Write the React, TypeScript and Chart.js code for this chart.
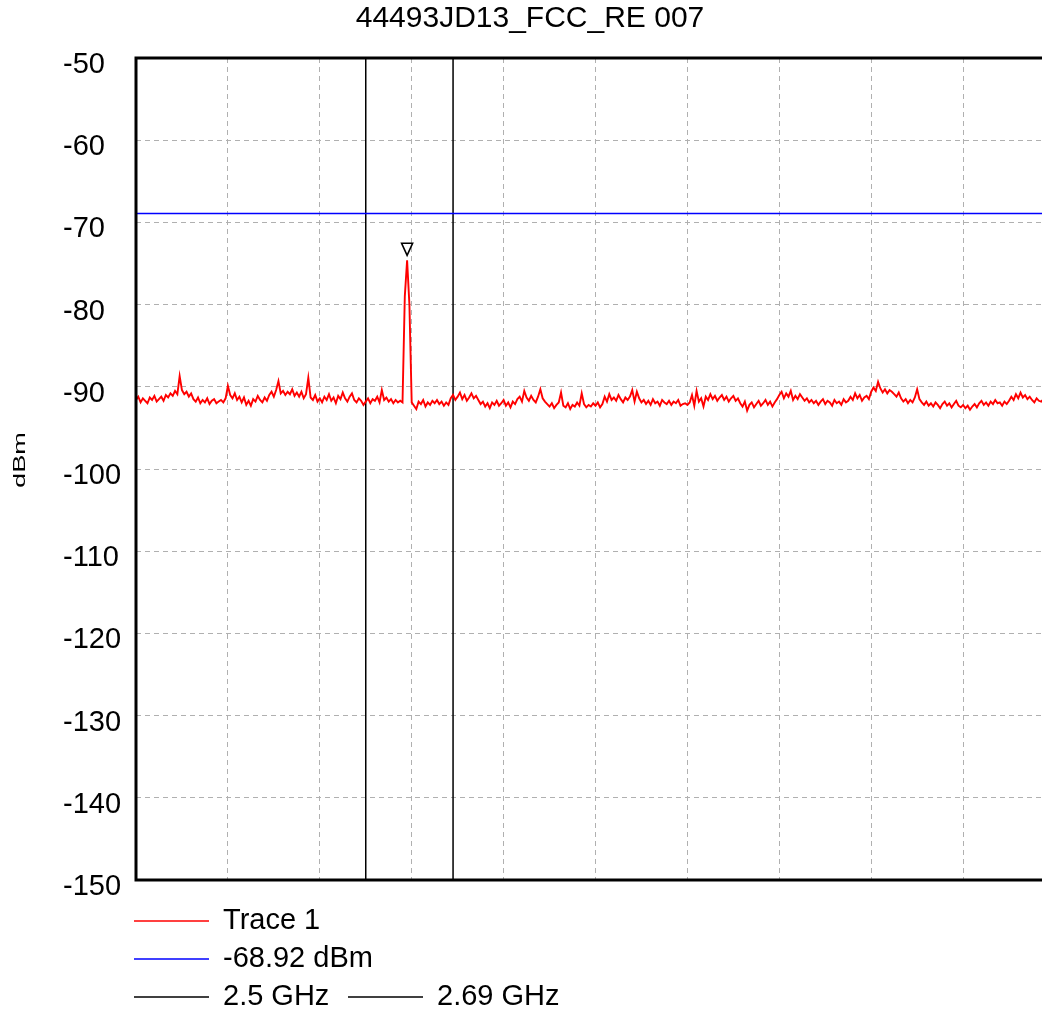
import { useEffect, useRef } from 'react';
import { Chart, registerables } from 'chart.js';

Chart.register(...registerables);

const FONT = "'Liberation Sans', Arial, Helvetica, sans-serif";

const TITLE = '44493JD13_FCC_RE 007';
const Y_LABEL = 'dBm';

// Sweep: 2.0 GHz .. 4.0 GHz, 0.005 GHz per trace point
const START_GHZ = 2.0;
const STEP_GHZ = 0.005;
const X_MIN = 2.0;
const X_MAX = 4.0;
const X_STEP = 0.2;

const Y_MIN = -150;
const Y_MAX = -50;
const Y_STEP = 10;

// Trace 1 levels (dBm)
const traceLevels = [
  -91.6, -91.2, -91.9, -91.4, -91.7, -92.0, -91.3, -91.6, -91.1, -91.8, -91.5, -91.2, -91.7, -91.0, -91.3, -90.8, -91.1, -90.5, -90.9, -88.7,
  -90.4, -90.9, -90.6, -91.2, -90.8, -91.5, -91.8, -91.3, -92.0, -91.6, -91.9, -91.4, -92.1, -91.7, -91.5, -92.0, -91.8, -91.6, -91.9, -91.4,
  -89.9, -91.0, -91.4, -90.8, -91.6, -91.2, -91.9, -91.3, -92.2, -91.7, -92.3, -91.5, -91.8, -91.1, -91.6, -91.9, -91.3, -91.7, -91.0, -90.6,
  -91.2, -90.4, -89.3, -90.8, -90.5, -91.0, -90.6, -90.9, -90.3, -91.1, -90.7, -91.2, -90.6, -91.4, -90.9, -88.9, -91.3, -91.6, -91.0, -91.8,
  -91.4, -91.9, -91.2, -91.6, -90.9, -91.7, -91.3, -92.0, -91.1, -91.5, -90.7, -91.4, -91.8, -91.2, -90.8, -91.6, -91.9, -91.4, -91.7, -92.2,
  -91.8, -91.4, -92.0, -91.5, -91.7, -91.2, -91.9, -90.4, -91.6, -91.3, -91.8, -91.5, -92.0, -91.6, -91.9, -91.7, -91.9, -79.0, -74.6, -80.0,
  -91.9, -92.3, -92.7, -91.8, -92.1, -91.6, -92.4, -91.9, -92.2, -91.7, -92.0, -91.6, -92.1, -91.8, -92.3, -91.9, -92.2, -91.4, -91.0, -91.6,
  -91.2, -90.7, -91.5, -91.0, -91.7, -91.3, -90.8, -91.4, -91.1, -91.6, -92.1, -91.8, -92.4, -92.0, -92.6, -91.9, -92.2, -91.7, -92.3, -92.0,
  -91.6, -92.3, -91.9, -92.5, -91.8, -92.1, -91.5, -91.2, -91.8, -90.5, -91.3, -91.7, -91.1, -91.6, -91.9, -91.2, -90.3, -91.4, -91.8, -92.1,
  -92.4, -92.0, -92.6, -92.2, -91.9, -90.7, -92.3, -92.5, -92.0, -92.7, -92.2, -92.4, -91.9, -92.3, -90.8, -92.1, -92.5, -92.2, -92.4, -92.0,
  -92.3, -91.9, -92.5, -92.1, -91.2, -91.8, -90.9, -91.6, -91.3, -91.7, -91.0, -91.5, -91.9, -91.3, -91.6, -91.2, -90.4, -91.8, -90.6, -91.4,
  -91.9, -91.6, -92.1, -91.7, -92.2, -91.5, -92.0, -91.8, -92.3, -91.6, -91.9, -92.1, -91.7, -92.2, -91.8, -92.0, -91.6, -92.3, -92.1, -92.0,
  -92.2, -91.9, -91.0, -92.3, -90.5, -91.8, -91.4, -92.4, -91.2, -91.6, -90.9, -91.5, -91.1, -91.7, -91.3, -91.0, -91.6, -91.2, -91.8, -91.4,
  -91.1, -91.7, -91.4, -92.0, -92.4, -91.8, -92.9, -92.2, -91.9, -92.5, -92.1, -91.7, -92.3, -92.0, -91.6, -92.2, -91.8, -92.4, -91.9, -91.5,
  -91.0, -90.6, -91.4, -90.8, -91.2, -90.5, -91.6, -91.1, -91.5, -90.9, -91.3, -91.7, -91.4, -91.9, -91.6, -92.0, -91.7, -92.2, -91.8, -91.5,
  -92.1, -91.7, -91.9, -92.3, -91.6, -92.0, -91.8, -92.2, -91.5, -91.9, -91.7, -91.2, -91.6, -90.8, -91.4, -91.0, -91.7, -91.3, -91.1, -91.5,
  -90.6, -90.1, -90.5, -89.4, -90.2, -90.7, -90.3, -90.8, -90.4, -90.6, -90.9, -91.2, -90.7, -91.4, -91.8, -91.5, -92.0, -91.6, -91.9, -91.3,
  -90.3, -91.5, -91.9, -92.2, -91.8, -92.3, -92.0, -92.4, -91.9, -92.2, -92.6, -92.1, -91.8, -92.3, -92.0, -92.5, -92.1, -91.7, -92.3, -92.5,
  -92.2, -92.6, -92.3, -92.8, -92.4, -92.1, -92.5, -92.0, -91.7, -92.2, -91.9, -92.3, -91.8, -92.1, -91.6, -92.0, -91.9, -92.3, -91.8, -92.1,
  -91.7, -91.2, -91.6, -90.9, -91.4, -90.7, -91.3, -91.0, -91.5, -91.2, -91.6, -91.9, -91.4, -91.7, -91.8, -91.5, -91.9, -91.6, -91.8, -91.7,
];

// Limit line
const limitLevel = -68.92;

// Band edge markers
const bandEdges = [2.5, 2.69];
const bandLabels = ['2.5 GHz', '2.69 GHz'];

// Peak marker
const markerFreq = 2.59;
const markerLevel = -74.6;

const chartPlugin = {
  id: 'specDecor',
  afterLayout(chart: any) {
    if (chart.titleBlock) {
      chart.titleBlock.left = 0;
      chart.titleBlock.right = chart.width;
    }
  },
  afterDatasetsDraw(chart: any) {
    const { ctx, chartArea } = chart;
    const xs = chart.scales.x;
    const ys = chart.scales.y;
    ctx.save();
    // frame
    ctx.strokeStyle = '#000';
    ctx.lineWidth = 3;
    ctx.setLineDash([]);
    ctx.strokeRect(chartArea.left, chartArea.top, chartArea.right - chartArea.left, chartArea.bottom - chartArea.top);
    // peak marker triangle
    const px = xs.getPixelForValue(markerFreq);
    const py = ys.getPixelForValue(markerLevel) - 5;
    ctx.beginPath();
    ctx.moveTo(px - 5.5, py - 12);
    ctx.lineTo(px + 5.5, py - 12);
    ctx.lineTo(px, py);
    ctx.closePath();
    ctx.fillStyle = '#fff';
    ctx.fill();
    ctx.lineWidth = 1.6;
    ctx.stroke();
    ctx.restore();
  },
  afterDraw(chart: any) {
    const { ctx } = chart;
    const ds = chart.data.datasets;
    ctx.save();
    // y axis title
    ctx.translate(20, 460);
    ctx.rotate(-Math.PI / 2);
    ctx.scale(1.6, 1);
    ctx.fillStyle = '#000';
    ctx.font = `17px ${FONT}`;
    ctx.textAlign = 'center';
    ctx.textBaseline = 'middle';
    ctx.fillText(Y_LABEL, 0, 0);
    ctx.restore();

    // legend
    const rows = [921, 959, 997];
    const items = [
      { i: 0, row: 0, x: 134 },
      { i: 1, row: 1, x: 134 },
      { i: 2, row: 2, x: 134 },
      { i: 3, row: 2, x: 348 },
    ];
    ctx.save();
    ctx.font = `29px ${FONT}`;
    ctx.textAlign = 'left';
    ctx.textBaseline = 'middle';
    items.forEach(({ i, row, x }) => {
      const d = ds[i];
      const y = rows[row];
      ctx.strokeStyle = d.borderColor;
      ctx.lineWidth = 1.5;
      ctx.beginPath();
      ctx.moveTo(x, y);
      ctx.lineTo(x + 75, y);
      ctx.stroke();
      ctx.fillStyle = '#000';
      ctx.fillText(d.label, x + 89, y);
    });
    ctx.restore();
  },
};

export default function App() {
  const ref = useRef<HTMLCanvasElement>(null);
  useEffect(() => {
    document.body.style.margin = '0';
    document.body.style.overflow = 'hidden';
    const canvas = ref.current!;
    const traceData = traceLevels.map((v, i) => ({ x: +(START_GHZ + i * STEP_GHZ).toFixed(4), y: v }));
    const gridColor = '#b0b0b0';
    const chart = new Chart(canvas, {
      type: 'line',
      data: {
        datasets: [
          { label: 'Trace 1', data: traceData, borderColor: '#ff0000', borderWidth: 1.9, pointRadius: 0, tension: 0 },
          {
            label: `${limitLevel} dBm`,
            data: [{ x: X_MIN, y: limitLevel }, { x: X_MAX, y: limitLevel }],
            borderColor: '#0000ff', borderWidth: 1.5, pointRadius: 0,
          },
          ...bandEdges.map((f, i) => ({
            label: bandLabels[i],
            data: [{ x: f, y: Y_MAX }, { x: f, y: Y_MIN }],
            borderColor: '#000000', borderWidth: 1.5, pointRadius: 0,
          })),
        ],
      },
      options: {
        responsive: false,
        animation: false,
        events: [],
        layout: { padding: { left: 63, right: 5, top: 0, bottom: 132 } },
        plugins: {
          legend: { display: false },
          tooltip: { enabled: false },
          title: {
            display: true,
            text: TITLE,
            color: '#000',
            font: { family: FONT, size: 30, weight: 'normal', lineHeight: 1.2 },
            padding: { top: 1, bottom: 21 },
          },
        },
        scales: {
          x: {
            type: 'linear',
            min: X_MIN,
            max: X_MAX,
            ticks: { display: false, stepSize: X_STEP },
            grid: { color: gridColor, lineWidth: 1, drawTicks: false },
            border: { display: false, dash: [5, 4] },
            afterFit(s: any) { s.height = 0; },
          },
          y: {
            type: 'linear',
            min: Y_MIN,
            max: Y_MAX,
            ticks: {
              stepSize: Y_STEP,
              crossAlign: 'far',
              labelOffset: 7,
              color: '#000',
              font: { family: FONT, size: 29 },
            },
            grid: { color: gridColor, lineWidth: 1, drawTicks: false },
            border: { display: false, dash: [5, 4] },
            afterFit(s: any) { s.width = 73; },
          },
        },
      } as any,
      plugins: [chartPlugin],
    });
    return () => chart.destroy();
  }, []);
  return (
    <div style={{ width: 1042, height: 1012, overflow: 'hidden', background: '#fff' }}>
      <canvas ref={ref} width={1060} height={1012} style={{ display: 'block' }} />
    </div>
  );
}
